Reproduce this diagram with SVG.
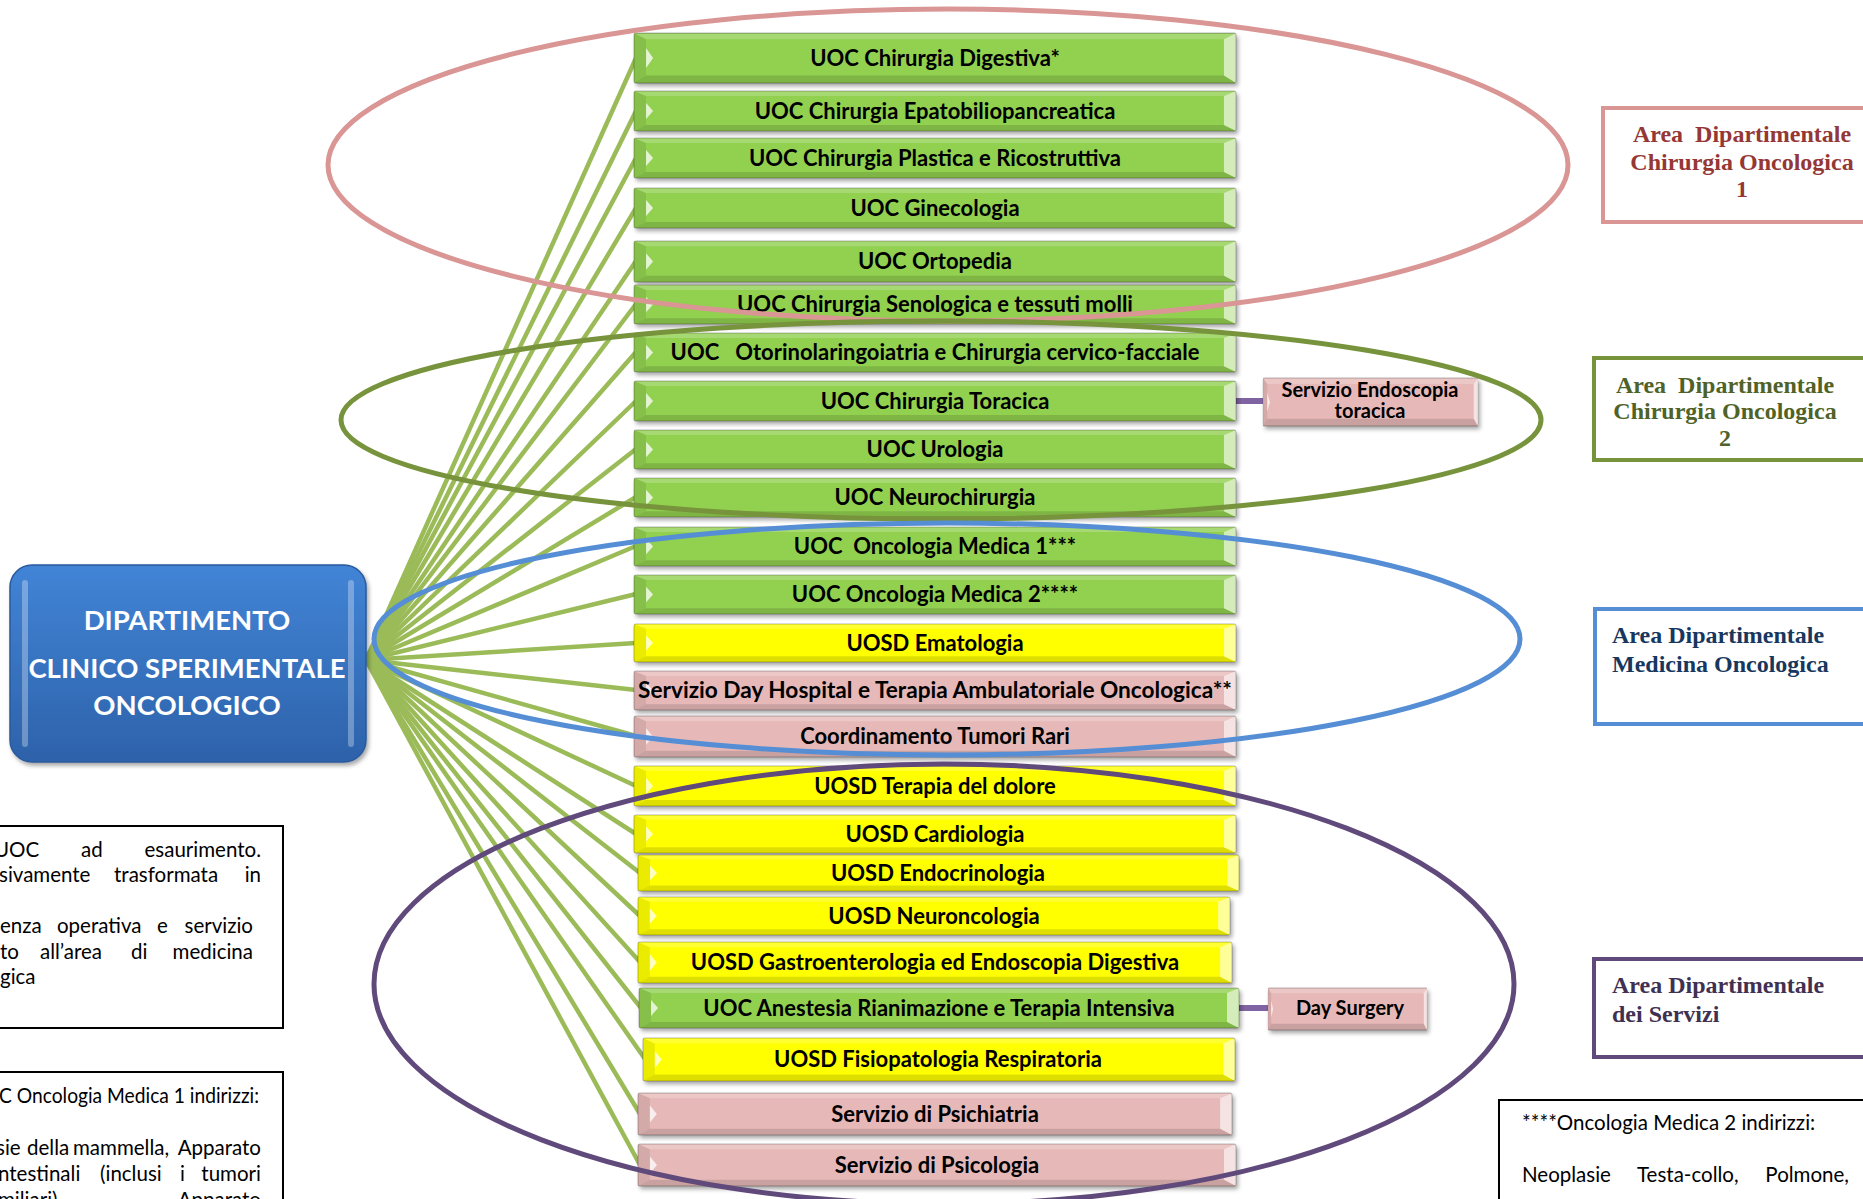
<svg xmlns="http://www.w3.org/2000/svg" xmlns:xlink="http://www.w3.org/1999/xlink" width="1863" height="1199" viewBox="0 0 1863 1199">
  <defs>
    <style>
      .lbl { font-family: Lato, "Open Sans", "Liberation Sans", sans-serif; font-weight: bold; font-size: 22px; fill: #000; text-anchor: middle; }
      .root { font-family: Lato, "Open Sans", "Liberation Sans", sans-serif; font-weight: bold; font-size: 27.5px; fill: #fff; text-anchor: middle; }
      .area { font-family: "Liberation Serif", "Times New Roman", serif; font-weight: bold; font-size: 24px; }
      .note { font-family: Lato, "Open Sans", "Liberation Sans", sans-serif; font-size: 20.5px; fill: #000; }
      .fan { stroke: #9BBB59; stroke-width: 4.5; fill: none; }
      .link { stroke: #8064A2; stroke-width: 6; fill: none; }
      .ring { fill: none; stroke-width: 5; }
      .green { color: #92D050; }
      .yellow { color: #FFFF00; }
      .pink { color: #E6B9B8; }
    </style>
    <filter id="shadow" x="-5%" y="-30%" width="110%" height="170%">
      <feDropShadow dx="2" dy="3" stdDeviation="2" flood-color="#000" flood-opacity="0.35"/>
    </filter>
    <linearGradient id="rootFill" x1="0" y1="0" x2="0" y2="1">
      <stop offset="0" stop-color="#4284D6"/>
      <stop offset="1" stop-color="#2D62AA"/>
    </linearGradient>
    <!-- bevelled bar used by every unit box; colour comes from currentColor -->
    <symbol id="bevel" viewBox="0 0 600 40" preserveAspectRatio="none" overflow="visible">
      <rect x="0" y="0" width="600" height="40" rx="2" fill="currentColor"/>
      <polygon points="0,0 600,0 588,5 12,5" fill="#fff" fill-opacity="0.2"/>
      <polygon points="0,40 12,34 588,34 600,40" fill="#000" fill-opacity="0.13"/>
      <polygon points="0,0 12,5 12,34 0,40" fill="#000" fill-opacity="0.08"/>
      <polygon points="600,0 588,5 588,34 600,40" fill="#fff" fill-opacity="0.6"/>
      <polygon points="12,12 19,20 12,28" fill="#fff" fill-opacity="0.75"/>
      <rect x="0" y="0" width="600" height="40" rx="2" fill="none" stroke="#000" stroke-opacity="0.25" stroke-width="1"/>
    </symbol>
  </defs>

  <rect width="1863" height="1199" fill="#fff"/>

  <!-- fan of connectors from the department to each unit -->
  <g id="connectors">
    <g class="fan">
      <line x1="366" y1="660" x2="636" y2="58"/>
      <line x1="366" y1="660" x2="636" y2="111"/>
      <line x1="366" y1="660" x2="636" y2="158"/>
      <line x1="366" y1="660" x2="636" y2="208"/>
      <line x1="366" y1="660" x2="636" y2="261"/>
      <line x1="366" y1="660" x2="636" y2="304"/>
      <line x1="366" y1="660" x2="636" y2="352"/>
      <line x1="366" y1="660" x2="636" y2="401"/>
      <line x1="366" y1="660" x2="636" y2="449"/>
      <line x1="366" y1="660" x2="636" y2="497"/>
      <line x1="366" y1="660" x2="636" y2="546"/>
      <line x1="366" y1="660" x2="636" y2="594"/>
      <line x1="366" y1="660" x2="636" y2="643"/>
      <line x1="366" y1="660" x2="636" y2="690"/>
      <line x1="366" y1="660" x2="636" y2="736"/>
      <line x1="366" y1="660" x2="636" y2="786"/>
      <line x1="366" y1="660" x2="636" y2="834"/>
      <line x1="366" y1="660" x2="640" y2="873"/>
      <line x1="366" y1="660" x2="640" y2="916"/>
      <line x1="366" y1="660" x2="640" y2="962"/>
      <line x1="366" y1="660" x2="641" y2="1008"/>
      <line x1="366" y1="660" x2="645" y2="1059"/>
      <line x1="366" y1="660" x2="640" y2="1114"/>
      <line x1="366" y1="660" x2="640" y2="1165"/>
    </g>
    <line class="link" x1="1234" y1="401" x2="1265" y2="401"/>
    <line class="link" x1="1237" y1="1008" x2="1270" y2="1008"/>
  </g>

  <!-- department -->
  <g id="dipartimento">
    <rect x="10" y="565" width="356" height="197" rx="22" fill="url(#rootFill)" stroke="#2A5A9C" stroke-width="1.5" filter="url(#shadow)"/>
    <rect x="22" y="580" width="6" height="167" rx="3" fill="#fff" fill-opacity="0.3"/>
    <rect x="348" y="580" width="6" height="167" rx="3" fill="#fff" fill-opacity="0.3"/>
    <text class="root" x="187" y="630">DIPARTIMENTO</text>
    <text class="root" x="187" y="678">CLINICO SPERIMENTALE</text>
    <text class="root" x="187" y="715">ONCOLOGICO</text>
  </g>

  <!-- units -->
  <g id="u01"><use href="#bevel" class="green" x="634" y="33" width="602" height="50" filter="url(#shadow)"/><text class="lbl" x="935" y="66">UOC Chirurgia Digestiva*</text></g>
  <g id="u02"><use href="#bevel" class="green" x="634" y="91" width="602" height="40" filter="url(#shadow)"/><text class="lbl" x="935" y="119">UOC Chirurgia Epatobiliopancreatica</text></g>
  <g id="u03"><use href="#bevel" class="green" x="634" y="138" width="602" height="40" filter="url(#shadow)"/><text class="lbl" x="935" y="166">UOC Chirurgia Plastica e Ricostruttiva</text></g>
  <g id="u04"><use href="#bevel" class="green" x="634" y="188" width="602" height="40" filter="url(#shadow)"/><text class="lbl" x="935" y="216">UOC Ginecologia</text></g>
  <g id="u05"><use href="#bevel" class="green" x="634" y="241" width="602" height="41" filter="url(#shadow)"/><text class="lbl" x="935" y="269">UOC Ortopedia</text></g>
  <g id="u06"><use href="#bevel" class="green" x="634" y="285" width="602" height="39" filter="url(#shadow)"/><text class="lbl" x="935" y="312">UOC Chirurgia Senologica e tessuti molli</text></g>
  <g id="u07"><use href="#bevel" class="green" x="634" y="333" width="602" height="39" filter="url(#shadow)"/><text class="lbl" x="935" y="360" xml:space="preserve">UOC   Otorinolaringoiatria e Chirurgia cervico-facciale</text></g>
  <g id="u08"><use href="#bevel" class="green" x="634" y="381" width="602" height="40" filter="url(#shadow)"/><text class="lbl" x="935" y="409">UOC Chirurgia Toracica</text></g>
  <g id="u09"><use href="#bevel" class="green" x="634" y="430" width="602" height="39" filter="url(#shadow)"/><text class="lbl" x="935" y="457">UOC Urologia</text></g>
  <g id="u10"><use href="#bevel" class="green" x="634" y="478" width="602" height="39" filter="url(#shadow)"/><text class="lbl" x="935" y="505">UOC Neurochirurgia</text></g>
  <g id="u11"><use href="#bevel" class="green" x="634" y="527" width="602" height="39" filter="url(#shadow)"/><text class="lbl" x="935" y="554" xml:space="preserve">UOC  Oncologia Medica 1***</text></g>
  <g id="u12"><use href="#bevel" class="green" x="634" y="575" width="602" height="39" filter="url(#shadow)"/><text class="lbl" x="935" y="602">UOC Oncologia Medica 2****</text></g>
  <g id="u13"><use href="#bevel" class="yellow" x="634" y="624" width="602" height="38" filter="url(#shadow)"/><text class="lbl" x="935" y="651">UOSD Ematologia</text></g>
  <g id="u14"><use href="#bevel" class="pink" x="634" y="671" width="602" height="39" filter="url(#shadow)"/><text class="lbl" x="935" y="698" textLength="594" lengthAdjust="spacingAndGlyphs">Servizio Day Hospital e Terapia Ambulatoriale Oncologica**</text></g>
  <g id="u15"><use href="#bevel" class="pink" x="634" y="716" width="602" height="41" filter="url(#shadow)"/><text class="lbl" x="935" y="744">Coordinamento Tumori Rari</text></g>
  <g id="u16"><use href="#bevel" class="yellow" x="634" y="766" width="602" height="40" filter="url(#shadow)"/><text class="lbl" x="935" y="794">UOSD Terapia del dolore</text></g>
  <g id="u17"><use href="#bevel" class="yellow" x="634" y="815" width="602" height="38" filter="url(#shadow)"/><text class="lbl" x="935" y="842">UOSD Cardiologia</text></g>
  <g id="u18"><use href="#bevel" class="yellow" x="638" y="855" width="601" height="36" filter="url(#shadow)"/><text class="lbl" x="938" y="881">UOSD Endocrinologia</text></g>
  <g id="u19"><use href="#bevel" class="yellow" x="638" y="897" width="592" height="38" filter="url(#shadow)"/><text class="lbl" x="934" y="924">UOSD Neuroncologia</text></g>
  <g id="u20"><use href="#bevel" class="yellow" x="638" y="942" width="594" height="41" filter="url(#shadow)"/><text class="lbl" x="935" y="970">UOSD Gastroenterologia ed Endoscopia Digestiva</text></g>
  <g id="u21"><use href="#bevel" class="green" x="639" y="988" width="600" height="40" filter="url(#shadow)"/><text class="lbl" x="939" y="1016">UOC Anestesia Rianimazione e Terapia Intensiva</text></g>
  <g id="u22"><use href="#bevel" class="yellow" x="643" y="1038" width="592" height="43" filter="url(#shadow)"/><text class="lbl" x="938" y="1067">UOSD Fisiopatologia Respiratoria</text></g>
  <g id="u23"><use href="#bevel" class="pink" x="638" y="1093" width="594" height="42" filter="url(#shadow)"/><text class="lbl" x="935" y="1122">Servizio di Psichiatria</text></g>
  <g id="u24"><use href="#bevel" class="pink" x="638" y="1144" width="598" height="42" filter="url(#shadow)"/><text class="lbl" x="937" y="1173">Servizio di Psicologia</text></g>

  <!-- attached services -->
  <g id="endoscopia"><use href="#bevel" class="pink" x="1263" y="378" width="215" height="48" filter="url(#shadow)"/><text class="lbl" x="1370" y="397" style="font-size:20px">Servizio Endoscopia</text><text class="lbl" x="1370" y="418" style="font-size:20px">toracica</text></g>
  <g id="daysurgery"><use href="#bevel" class="pink" x="1268" y="988" width="159" height="42" filter="url(#shadow)"/><text class="lbl" x="1350" y="1015" style="font-size:20px">Day Surgery</text></g>

  <!-- area rings -->
  <g id="aree">
    <ellipse class="ring" cx="948" cy="165" rx="620" ry="156" stroke="#D99694"/>
    <ellipse class="ring" cx="941" cy="420" rx="600" ry="99" stroke="#77933C"/>
    <ellipse class="ring" cx="947" cy="639" rx="573" ry="116" stroke="#558ED5"/>
    <ellipse class="ring" cx="944" cy="984" rx="570" ry="220" stroke="#604A7B" stroke-width="6"/>
  </g>

  <!-- area captions -->
  <g id="area1">
    <rect x="1603" y="108" width="300" height="114" fill="#fff" stroke="#D99694" stroke-width="4"/>
    <text class="area" fill="#953735" text-anchor="middle" xml:space="preserve"><tspan x="1742" y="142">Area  Dipartimentale</tspan><tspan x="1742" y="170">Chirurgia Oncologica</tspan><tspan x="1742" y="197">1</tspan></text>
  </g>
  <g id="area2">
    <rect x="1594" y="358" width="300" height="102" fill="#fff" stroke="#77933C" stroke-width="4"/>
    <text class="area" fill="#4F6228" text-anchor="middle" xml:space="preserve"><tspan x="1725" y="393">Area  Dipartimentale</tspan><tspan x="1725" y="419">Chirurgia Oncologica</tspan><tspan x="1725" y="446">2</tspan></text>
  </g>
  <g id="area3">
    <rect x="1595" y="609" width="300" height="115" fill="#fff" stroke="#558ED5" stroke-width="4"/>
    <text class="area" fill="#17375E"><tspan x="1612" y="643">Area Dipartimentale</tspan><tspan x="1612" y="672">Medicina Oncologica</tspan></text>
  </g>
  <g id="area4">
    <rect x="1594" y="959" width="300" height="98" fill="#fff" stroke="#604A7B" stroke-width="4"/>
    <text class="area" fill="#403152"><tspan x="1612" y="993">Area Dipartimentale</tspan><tspan x="1612" y="1022">dei Servizi</tspan></text>
  </g>

  <!-- footnotes -->
  <g id="nota1">
    <rect x="-10" y="826" width="293" height="202" fill="#fff" stroke="#000" stroke-width="2"/>
    <g class="note">
      <text x="-6" y="857">UOC</text><text x="81" y="857">ad</text><text x="261" y="857" text-anchor="end">esaurimento.</text>
      <text x="-1" y="882">sivamente</text><text x="114" y="882">trasformata</text><text x="261" y="882" text-anchor="end">in</text>
      <text x="0" y="933">enza</text><text x="57" y="933">operativa</text><text x="157" y="933">e</text><text x="253" y="933" text-anchor="end">servizio</text>
      <text x="0" y="959">to</text><text x="40" y="959">all’area</text><text x="131" y="959">di</text><text x="253" y="959" text-anchor="end">medicina</text>
      <text x="0" y="984">gica</text>
    </g>
  </g>
  <g id="nota2">
    <rect x="-10" y="1072" width="293" height="150" fill="#fff" stroke="#000" stroke-width="2"/>
    <g class="note">
      <text x="-1" y="1103" textLength="260" lengthAdjust="spacingAndGlyphs">C Oncologia Medica 1 indirizzi:</text>
      <text x="-4" y="1155">sie</text><text x="27" y="1155">della</text><text x="73" y="1155">mammella,</text><text x="261" y="1155" text-anchor="end">Apparato</text>
      <text x="-2" y="1181">ntestinali</text><text x="100" y="1181">(inclusi</text><text x="180" y="1181">i</text><text x="261" y="1181" text-anchor="end">tumori</text>
      <text x="-2" y="1207">miliari),</text><text x="261" y="1207" text-anchor="end">Apparato</text>
    </g>
  </g>
  <g id="nota3">
    <rect x="1499" y="1100" width="400" height="120" fill="#fff" stroke="#000" stroke-width="2"/>
    <g class="note">
      <text x="1522" y="1130">****Oncologia Medica 2 indirizzi:</text>
      <text x="1522" y="1182">Neoplasie</text><text x="1637" y="1182">Testa-collo,</text><text x="1849" y="1182" text-anchor="end">Polmone,</text>
    </g>
  </g>
</svg>
